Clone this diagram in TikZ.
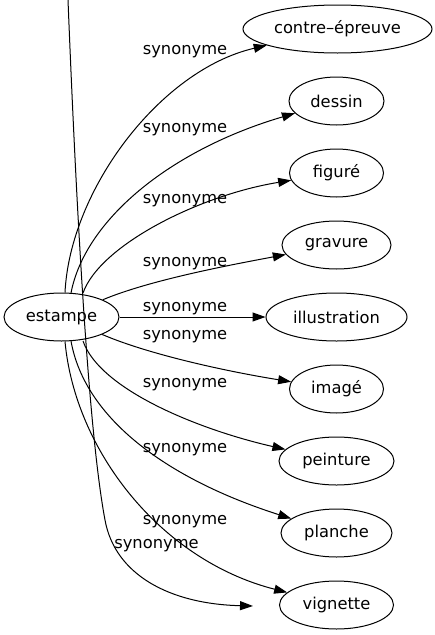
\documentclass[tikz,border=0pt]{standalone}
\usepackage{fontspec}
\setmainfont{DejaVu Sans}
\usetikzlibrary{shapes.geometric,arrows.meta}
\tikzset{
  term/.style={draw, ellipse, inner sep=0pt, minimum height=48pt, line width=1pt,
    font=\fontsize{16.3}{19}\selectfont},
  lbl/.style={inner sep=0pt, font=\fontsize{16.3}{19}\selectfont},
  syn/.style={line width=1pt, -{Triangle[length=13pt,width=9pt]}}
}
\begin{document}
\begin{tikzpicture}[x=1pt,y=-1pt]
\useasboundingbox (0,0) rectangle (435,635);
\node[term, minimum width=115pt] (e) at (61.5,317) {estampe};
\node[term, minimum width=189pt] (n1) at (337.5,29) {contre–épreuve};
\node[term, minimum width=95pt] (n2) at (336.5,101) {dessin};
\node[term, minimum width=94pt] (n3) at (336.5,173) {figuré};
\node[term, minimum width=109pt] (n4) at (336.5,245) {gravure};
\node[term, minimum width=141pt] (n5) at (336.5,317) {illustration};
\node[term, minimum width=94pt] (n6) at (336.5,389) {imagé};
\node[term, minimum width=115pt] (n7) at (336.5,461) {peinture};
\node[term, minimum width=111pt] (n8) at (336.5,533) {planche};
\node[term, minimum width=114pt] (n9) at (336.5,605) {vignette};
\coordinate (top) at (68,0);
\coordinate (free) at (253,606);

\draw[syn] (e.north) ++(3.5,0) .. controls (70,190) and (160,70) .. (n1);
\draw[syn] (e) ++(9.5,-24) .. controls (85,220) and (170,150) .. (n2);
\draw[syn] (e) ++(21.5,-24) .. controls (100,245) and (200,195) .. (n3);
\draw[syn] (e) .. controls (150,280) and (230,265) .. (n4);
\draw[syn] (e) -- (n5);
\draw[syn] (e) .. controls (150,355) and (230,372) .. (n6);
\draw[syn] (e) ++(21.5,24) .. controls (100,390) and (200,430) .. (n7);
\draw[syn] (e) ++(9.5,24) .. controls (85,420) and (170,480) .. (n8);
\draw[syn] (e.south) ++(3.5,0) .. controls (75,450) and (160,560) .. (n9);
\draw[syn] (top) .. controls (78,250) and (90,440) .. (105,520)
  .. controls (115,575) and (170,604) .. (free);

\node[lbl] (l1) at (185,51.5) {synonyme};
\node[lbl] (l2) at (185,129.5) {synonyme};
\node[lbl] (l3) at (185,200.5) {synonyme};
\node[lbl] (l4) at (185,263.5) {synonyme};
\node[lbl] (l5) at (185,308.5) {synonyme};
\node[lbl] (l6) at (185,336.5) {synonyme};
\node[lbl] (l7) at (185,384.5) {synonyme};
\node[lbl] (l8) at (185,449.5) {synonyme};
\node[lbl] (l9) at (185,521.5) {synonyme};
\node[lbl] (l10) at (156.5,545.5) {synonyme};
\end{tikzpicture}
\end{document}
